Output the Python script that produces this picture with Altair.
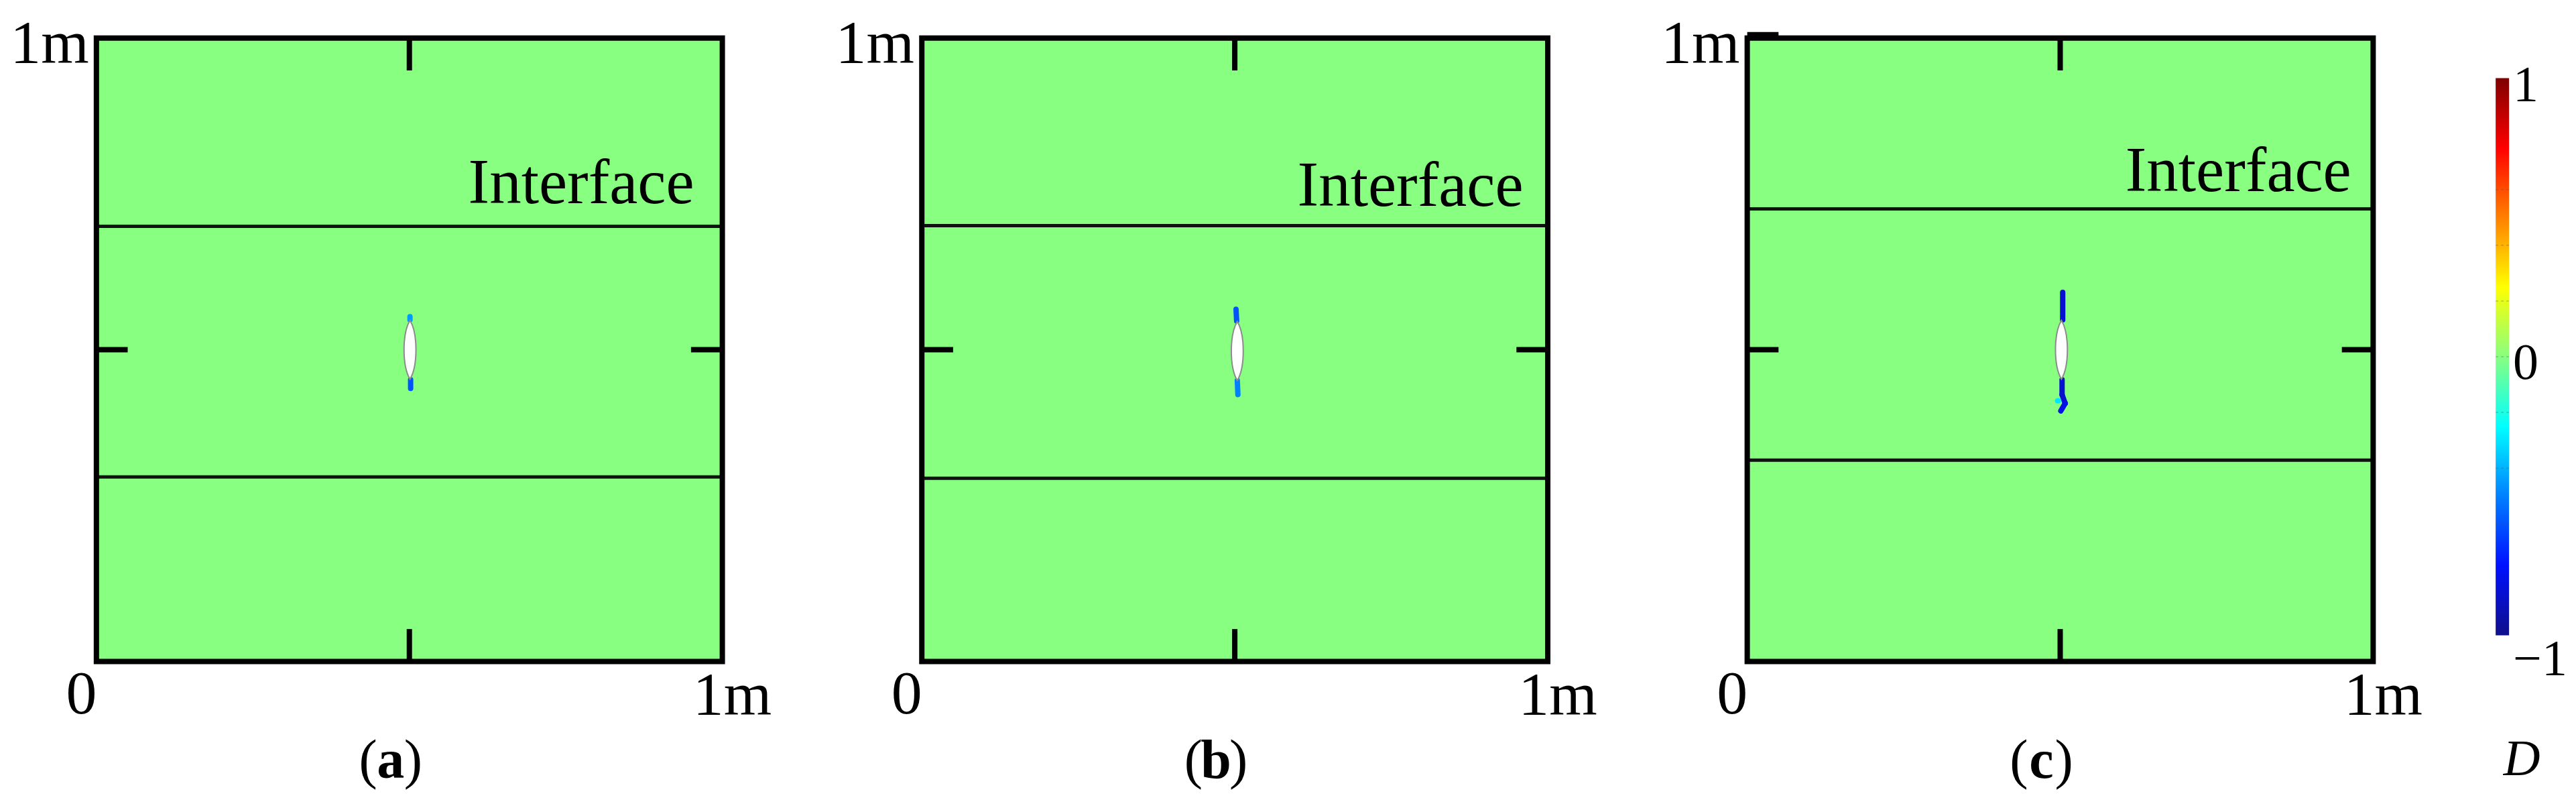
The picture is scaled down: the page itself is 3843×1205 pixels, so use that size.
import altair as alt
import pandas as pd

# ---------------- data ----------------
panel_letters = ["a", "b", "c"]
background_D = [0.0, 0.0, 0.0]
interface_lower = [0.296, 0.294, 0.323]
interface_upper = [0.698, 0.699, 0.726]
crack_x = [0.501, 0.504, 0.502]
crack_y = [0.500, 0.498, 0.500]

# damage zones at the crack tips: segment start/end (m) and damage value D
dmg_panel = ["a", "a", "b", "b", "c", "c", "c", "c", "c"]
dmg_x = [0.501, 0.502, 0.503, 0.504, 0.504, 0.503, 0.503, 0.508, 0.496]
dmg_y = [0.548, 0.452, 0.546, 0.451, 0.548, 0.452, 0.428, 0.414, 0.418]
dmg_x2 = [0.501, 0.502, 0.502, 0.505, 0.504, 0.503, 0.508, 0.501, 0.497]
dmg_y2 = [0.553, 0.438, 0.565, 0.428, 0.592, 0.428, 0.414, 0.402, 0.418]
dmg_D = [-0.45, -0.6, -0.6, -0.5, -0.85, -0.85, -0.85, -0.8, -0.3]

interface_label_x = [0.955, 0.961, 0.965]
interface_label_y = [0.735, 0.731, 0.755]

D_stops = [-1, -0.75, -0.5, -0.25, 0, 0.25, 0.5, 0.75, 1]
jet_colors = ["#10108a", "#0010ff", "#0080ff", "#00ffff", "#88ff80",
              "#ffff00", "#ff8000", "#ff0000", "#800000"]
cbar_values = [1, 0, -1]
cbar_labels = ["1", "0", "\u22121"]
cbar_dividers = [-0.6, -0.4, -0.2, 0, 0.2, 0.4, 0.6]

# ---------------- styling ----------------
SERIF = "Liberation Serif"
W, H = 935, 931
XS = alt.Scale(domain=[0, 1], nice=False, zero=False)
YS = alt.Scale(domain=[0, 1], nice=False, zero=False)
JET = alt.Scale(domain=D_stops, range=jet_colors, interpolate="rgb")

dmg_df = pd.DataFrame({"panel": dmg_panel, "x": dmg_x, "y": dmg_y,
                       "x2": dmg_x2, "y2": dmg_y2, "D": dmg_D})

CRACK_PATH = "M0,-1C0.27,-0.55 0.27,0.55 0,1C-0.27,0.55 -0.27,-0.55 0,-1Z"


def X(f="x"):
    return alt.X(f"{f}:Q", scale=XS, axis=None)


def Y(f="y"):
    return alt.Y(f"{f}:Q", scale=YS, axis=None)


def label(x, y, s, size, align="center", dx=0, weight="normal", style="normal"):
    return alt.Chart(pd.DataFrame({"x": [x], "y": [y], "t": [s]})).mark_text(
        font=SERIF, fontSize=size, align=align, baseline="alphabetic", dx=dx,
        fontWeight=weight, fontStyle=style, color="black"
    ).encode(x=X(), y=Y(), text="t:N")


def panel(i):
    bg = pd.DataFrame({"x": [0], "x2": [1], "y": [0], "y2": [1], "D": [background_D[i]]})
    fill = alt.Chart(bg).mark_rect().encode(
        x=X(), x2="x2:Q", y=Y(), y2="y2:Q",
        color=alt.Color("D:Q", scale=JET, legend=None))

    iface = alt.Chart(pd.DataFrame({"y": [interface_lower[i], interface_upper[i]]})).mark_rule(
        color="#111111", strokeWidth=5).encode(y=Y())

    d = dmg_df[dmg_df.panel == panel_letters[i]]
    dmg = alt.Chart(d).mark_rule(strokeWidth=8, strokeCap="round").encode(
        x=X(), y=Y(), x2="x2:Q", y2="y2:Q",
        color=alt.Color("D:Q", scale=JET, legend=None))

    crack = alt.Chart(pd.DataFrame({"x": [crack_x[i]], "y": [crack_y[i]]})).mark_point(
        shape=CRACK_PATH, filled=True, fill="white", stroke="#8c8c8c",
        strokeWidth=2, opacity=1, size=7744).encode(x=X(), y=Y())

    frame = alt.Chart(bg).mark_rect(filled=False, stroke="black", strokeWidth=8).encode(
        x=X(), x2="x2:Q", y=Y(), y2="y2:Q")

    ticks = alt.Chart(pd.DataFrame({
        "x": [0.5, 0.5, 0.0, 0.95], "x2": [0.5, 0.5, 0.05, 1.0],
        "y": [1.0, 0.0, 0.5, 0.5], "y2": [0.948, 0.052, 0.5, 0.5]})).mark_rule(
        color="black", strokeWidth=8).encode(x=X(), x2="x2:Q", y=Y(), y2="y2:Q")

    layers = [fill, iface, dmg, crack, frame, ticks]
    if i == 2:
        layers.append(alt.Chart(pd.DataFrame({"x": [0.0], "x2": [0.05], "y": [1.0065]})).mark_rule(
            color="black", strokeWidth=6).encode(x=X(), x2="x2:Q", y=Y()))

    layers += [
        label(-0.012, 0.96, "1m", 92, align="right"),
        label(-0.024, -0.083, "0", 92),
        label(1.016, -0.085, "1m", 92),
        label(interface_label_x[i], interface_label_y[i], "Interface", 95, align="right"),
        label(0.47, -0.187, "(", 82, align="right", dx=-20),
        label(0.47, -0.187, panel_letters[i], 82, weight="bold"),
        label(0.47, -0.187, ")", 82, align="left", dx=20),
    ]
    return alt.layer(*layers).properties(width=W, height=H)


# ---------------- colour bar ----------------
CBX = alt.Scale(domain=[0, 1], nice=False, zero=False)
CBY = alt.Scale(domain=[-1.094, 1.144], nice=False, zero=False)
grad = {"gradient": "linear", "x1": 0, "y1": 1, "x2": 0, "y2": 0,
        "stops": [{"offset": (d + 1) / 2, "color": c} for d, c in zip(D_stops, jet_colors)]}

bar = alt.Chart(pd.DataFrame({"y": [-1], "y2": [1]})).mark_rect(fill=grad).encode(
    y=alt.Y("y:Q", scale=CBY, axis=None), y2="y2:Q")
div = alt.Chart(pd.DataFrame({"y": cbar_dividers})).mark_rule(
    color="#555555", opacity=0.25, strokeWidth=2, strokeDash=[4, 4]).encode(
    y=alt.Y("y:Q", scale=CBY, axis=None))
cb_lab_y = [0.918, -0.079, -1.144]
cb_text = alt.Chart(pd.DataFrame({"x": [1, 1, 1], "y": cb_lab_y, "t": cbar_labels})).mark_text(
    font=SERIF, fontSize=76, align="left", baseline="alphabetic", dx=6, color="black").encode(
    x=alt.X("x:Q", scale=CBX, axis=None), y=alt.Y("y:Q", scale=CBY, axis=None), text="t:N")
d_text = alt.Chart(pd.DataFrame({"x": [1], "y": [-1.502], "t": ["D"]})).mark_text(
    font=SERIF, fontSize=76, fontStyle="italic", align="center", baseline="alphabetic",
    dx=19, color="black").encode(
    x=alt.X("x:Q", scale=CBX, axis=None), y=alt.Y("y:Q", scale=CBY, axis=None), text="t:N")
cbar = alt.layer(bar, div, cb_text, d_text).properties(width=20, height=H)

row = alt.hconcat(panel(0), panel(1), panel(2), spacing=298, bounds="flush")
chart = alt.hconcat(row, cbar, spacing=108, bounds="full").configure_view(
    strokeWidth=0).properties(padding={"left": 7, "top": 11, "right": 5, "bottom": 5},
                              background="white")

chart.save("out.html", embed_options={"renderer": "svg", "actions": False})
